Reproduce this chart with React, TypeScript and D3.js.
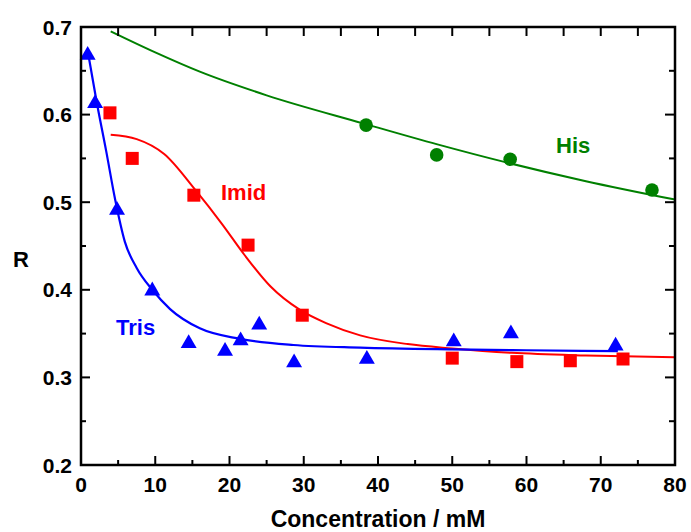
import React from 'react';
import * as d3 from 'd3';

// measured points
const trisX = [0.9, 1.9, 4.85, 9.6, 14.5, 19.4, 21.5, 24, 28.7, 38.5, 50.2, 57.9, 72];
const trisY = [0.669, 0.614, 0.492, 0.4, 0.34, 0.331, 0.343, 0.361, 0.318, 0.322, 0.342, 0.351, 0.337];
const imidX = [3.9, 6.9, 15.2, 22.5, 29.8, 50, 58.7, 65.9, 73];
const imidY = [0.602, 0.55, 0.508, 0.451, 0.371, 0.322, 0.318, 0.319, 0.321];
const hisX = [38.4, 47.9, 57.8, 76.9];
const hisY = [0.588, 0.554, 0.549, 0.514];

// fit curves
const trisFitX = [1, 2.1, 3.4, 4.6, 5.9, 7.5, 9.6, 12, 16, 21.4, 28.6, 37.6, 50, 60, 72.3];
const trisFitY = [0.668, 0.615, 0.558, 0.503, 0.455, 0.425, 0.4, 0.378, 0.356, 0.344, 0.337, 0.334, 0.332, 0.331, 0.33];
const imidFitX = [4, 7.5, 11.2, 15.4, 19, 22, 25.5, 29.5, 33, 37.6, 44, 50, 58, 68, 80];
const imidFitY = [0.577, 0.572, 0.555, 0.514, 0.475, 0.44, 0.404, 0.377, 0.362, 0.348, 0.338, 0.333, 0.328, 0.325, 0.323];
const hisFitX = [4, 10, 16, 25, 38, 48, 57, 68, 80];
const hisFitY = [0.695, 0.671, 0.649, 0.622, 0.59, 0.566, 0.546, 0.524, 0.503];

const xTicks = [0, 10, 20, 30, 40, 50, 60, 70, 80];
const xMinor = [5, 15, 25, 35, 45, 55, 65, 75];
const yTicks = [0.2, 0.3, 0.4, 0.5, 0.6, 0.7];
const yMinor = [0.25, 0.35, 0.45, 0.55, 0.65];

const BLUE = '#0000ff';
const RED = '#ff0000';
const GREEN = '#008000';
const FONT = '"Liberation Sans", Arial, sans-serif';

export default function App() {
  const margin = { top: 27, right: 16, bottom: 67, left: 81 };
  const W = 691, H = 532;
  const x = d3.scaleLinear().domain([0, 80]).range([margin.left, W - margin.right]);
  const y = d3.scaleLinear().domain([0.2, 0.7]).range([H - margin.bottom, margin.top]);
  const x0 = x(0), x1 = x(80), y0 = y(0.2), y1 = y(0.7);

  const line = (xs: number[], ys: number[], curve: d3.CurveFactory) =>
    d3.line<number>().x((_, i) => x(xs[i])).y((d) => y(d)).curve(curve)(ys) || '';

  const tri = d3.symbol().type(d3.symbolTriangle).size(110)() || '';

  return (
    <svg width={W} height={H} style={{ position: 'absolute', left: 0, top: 0 }} fontFamily={FONT} fontWeight="bold">
      <rect width={W} height={H} fill="#fff" />

      {/* fit lines */}
      <path d={line(hisFitX, hisFitY, d3.curveMonotoneX)} fill="none" stroke={GREEN} strokeWidth={2} />
      <path d={line(imidFitX, imidFitY, d3.curveMonotoneX)} fill="none" stroke={RED} strokeWidth={2} />
      <path d={line(trisFitX, trisFitY, d3.curveMonotoneX)} fill="none" stroke={BLUE} strokeWidth={2.2} />

      {/* markers */}
      {hisX.map((d, i) => (
        <circle key={'h' + i} cx={x(d)} cy={y(hisY[i])} r={6.8} fill={GREEN} />
      ))}
      {imidX.map((d, i) => (
        <rect key={'m' + i} x={x(d) - 6.5} y={y(imidY[i]) - 6.5} width={13} height={13} fill={RED} />
      ))}
      {trisX.map((d, i) => (
        <path key={'t' + i} d={tri} transform={`translate(${x(d)},${y(trisY[i]) + 1})`} fill={BLUE} />
      ))}

      {/* ticks */}
      <g stroke="#000" strokeWidth={2}>
        {xTicks.map((t) => (
          <g key={'xt' + t}>
            <line x1={x(t)} x2={x(t)} y1={y0} y2={y0 - 9} />
            <line x1={x(t)} x2={x(t)} y1={y1} y2={y1 + 9} />
          </g>
        ))}
        {xMinor.map((t) => (
          <g key={'xm' + t}>
            <line x1={x(t)} x2={x(t)} y1={y0} y2={y0 - 5} />
            <line x1={x(t)} x2={x(t)} y1={y1} y2={y1 + 9} />
          </g>
        ))}
        {yTicks.map((t) => (
          <g key={'yt' + t}>
            <line x1={x0} x2={x0 + 9} y1={y(t)} y2={y(t)} />
            <line x1={x1} x2={x1 - 10} y1={y(t)} y2={y(t)} />
          </g>
        ))}
        {yMinor.map((t) => (
          <g key={'ym' + t}>
            <line x1={x0} x2={x0 + 5} y1={y(t)} y2={y(t)} />
            <line x1={x1} x2={x1 - 6} y1={y(t)} y2={y(t)} />
          </g>
        ))}
        <rect x={x0} y={y1} width={x1 - x0} height={y0 - y1} fill="none" strokeWidth={2.5} />
      </g>

      {/* tick labels */}
      {xTicks.map((t) => (
        <text key={'xl' + t} x={x(t)} y={y0 + 27} textAnchor="middle" fontSize={21}>
          {t}
        </text>
      ))}
      {yTicks.map((t) => (
        <text key={'yl' + t} x={x0 - 9} y={y(t) + 7.5} textAnchor="end" fontSize={21}>
          {t.toFixed(1)}
        </text>
      ))}

      {/* axis titles */}
      <text x={(x0 + x1) / 2} y={527} textAnchor="middle" fontSize={23}>
        Concentration / mM
      </text>
      <text x={13} y={267} fontSize={22}>R</text>

      {/* series labels */}
      <text x={556} y={153} fontSize={22} fill={GREEN}>His</text>
      <text x={221} y={200} fontSize={22} fill={RED}>Imid</text>
      <text x={116} y={335} fontSize={22} fill={BLUE}>Tris</text>
    </svg>
  );
}
